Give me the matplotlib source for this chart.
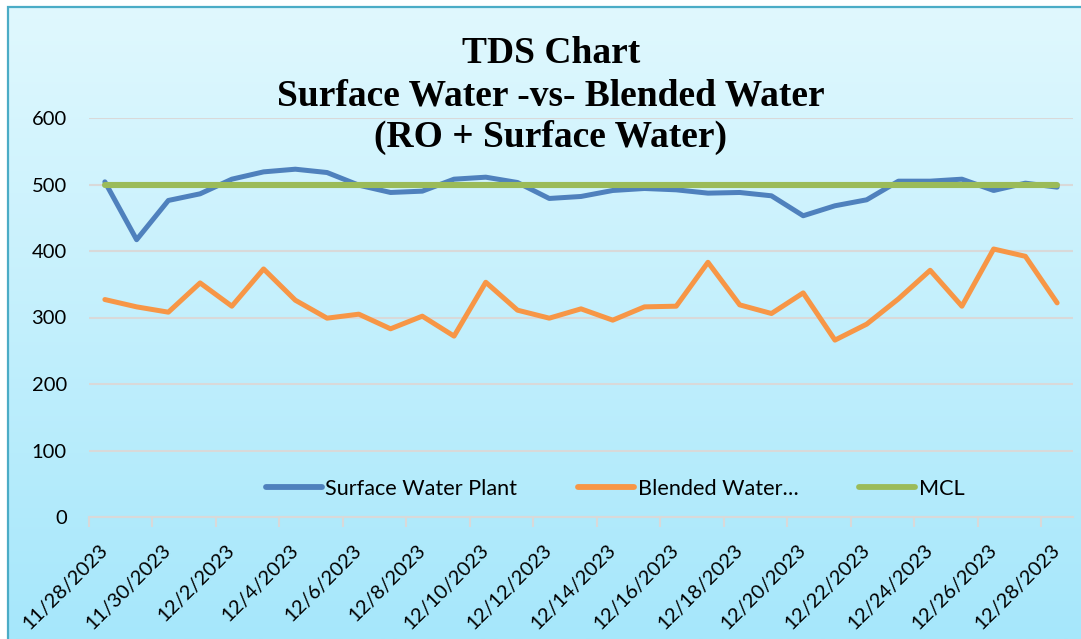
import matplotlib.pyplot as plt
import numpy as np
from matplotlib.lines import Line2D
from matplotlib.patches import Rectangle

# --- Data ------------------------------------------------------------------
dates = [
    "11/28/2023", "11/29/2023", "11/30/2023", "12/1/2023", "12/2/2023",
    "12/3/2023", "12/4/2023", "12/5/2023", "12/6/2023", "12/7/2023",
    "12/8/2023", "12/9/2023", "12/10/2023", "12/11/2023", "12/12/2023",
    "12/13/2023", "12/14/2023", "12/15/2023", "12/16/2023", "12/17/2023",
    "12/18/2023", "12/19/2023", "12/20/2023", "12/21/2023", "12/22/2023",
    "12/23/2023", "12/24/2023", "12/25/2023", "12/26/2023", "12/27/2023",
    "12/28/2023",
]
surface = [504, 417, 476, 486, 508, 519, 523, 518, 499, 488,
           490, 508, 511, 503, 479, 482, 491, 494, 492, 487,
           488, 483, 453, 468, 477, 505, 505, 508, 491, 502,
           496]
blended = [327, 316, 308, 352, 317, 373, 326, 299, 305, 283,
           302, 272, 353, 311, 299, 313, 296, 316, 317, 383,
           319, 306, 337, 266, 290, 328, 371, 317, 403, 392,
           322]
mcl = [500] * len(dates)

series_names = ["Surface Water Plant", "Blended Water\u2026", "MCL"]
title_lines = ["TDS Chart", "Surface Water -vs- Blended Water",
               "(RO + Surface Water)"]
y_ticks = [0, 100, 200, 300, 400, 500, 600]

# --- Style -----------------------------------------------------------------
BLUE, ORANGE, GREEN = "#4f81bd", "#f79646", "#9bbb59"
GRID = "#d9d9d9"
W, H = 1081, 639
TICK_FONT = "Lato"

fig = plt.figure(figsize=(W / 100, H / 100), dpi=100, facecolor="white")

# gradient background inside the chart border
bg = fig.add_axes([8 / W, 0, 1 - 8 / W, 1 - 7 / H], zorder=-2)
grad = np.linspace(0, 1, 256)[:, None]
top = np.array([0xe0, 0xf8, 0xfe]) / 255
bot = np.array([0xa6, 0xe7, 0xfb]) / 255
bg.imshow(top + (bot - top) * grad[:, :, None], aspect="auto",
          extent=[0, 1, 0, 1])
bg.set_axis_off()
fig.patches.append(Rectangle((8 / W, -0.05), 1.1, 1 - 7 / H + 0.05,
                             transform=fig.transFigure, fill=False,
                             edgecolor="#4bacc6", linewidth=1.6, zorder=-1))

ax = fig.add_axes([89 / W, 1 - 517 / H, (1073 - 89) / W, (517 - 118) / H])
ax.set_facecolor("none")
x = np.arange(len(dates))

ax.plot(x, surface, color=BLUE, lw=3.6, solid_capstyle="round", zorder=3)
ax.plot(x, blended, color=ORANGE, lw=3.6, solid_capstyle="round", zorder=3)
ax.plot(x, mcl, color=GREEN, lw=4.4, solid_capstyle="round", zorder=4)

ax.set_xlim(-0.5, len(dates) - 0.5)
ax.set_ylim(0, 600)
ax.set_yticks(y_ticks)
ax.yaxis.grid(True, color=GRID, lw=1.5)
ax.set_axisbelow(True)
for s in ("top", "right", "left"):
    ax.spines[s].set_visible(False)
ax.spines["bottom"].set_color(GRID)
ax.spines["bottom"].set_linewidth(1.5)
ax.tick_params(axis="y", length=0, pad=16, labelsize=14.5)
for lab in ax.get_yticklabels():
    lab.set_family(TICK_FONT)

ax.set_xticks(x[::2])
ax.set_xticklabels(dates[::2], rotation=45, ha="right", va="center",
                   rotation_mode="anchor", family=TICK_FONT, fontsize=14.5)
ax.tick_params(axis="x", which="major", length=0, pad=22)
ax.set_xticks(np.arange(-0.5, len(dates) - 1, 2), minor=True)
ax.tick_params(axis="x", which="minor", length=7, width=1.5, color=GRID)

handles = [Line2D([], [], color=c, lw=4.2, solid_capstyle="round")
           for c in (BLUE, ORANGE, GREEN)]
fig.legend(handles, series_names, loc="center", ncol=3, frameon=False,
           bbox_to_anchor=(615 / W, 1 - 489 / H),
           prop={"family": TICK_FONT, "size": 15.6},
           handlelength=2.6, handletextpad=0.15, columnspacing=2.8)

# three title lines, placed by baseline
for line, base in zip(title_lines, (63, 105, 147)):
    fig.text(551 / W, 1 - base / H, line, ha="center", va="baseline",
             family="Liberation Serif", weight="bold", fontsize=27)

fig.savefig("out.png", dpi=100)
